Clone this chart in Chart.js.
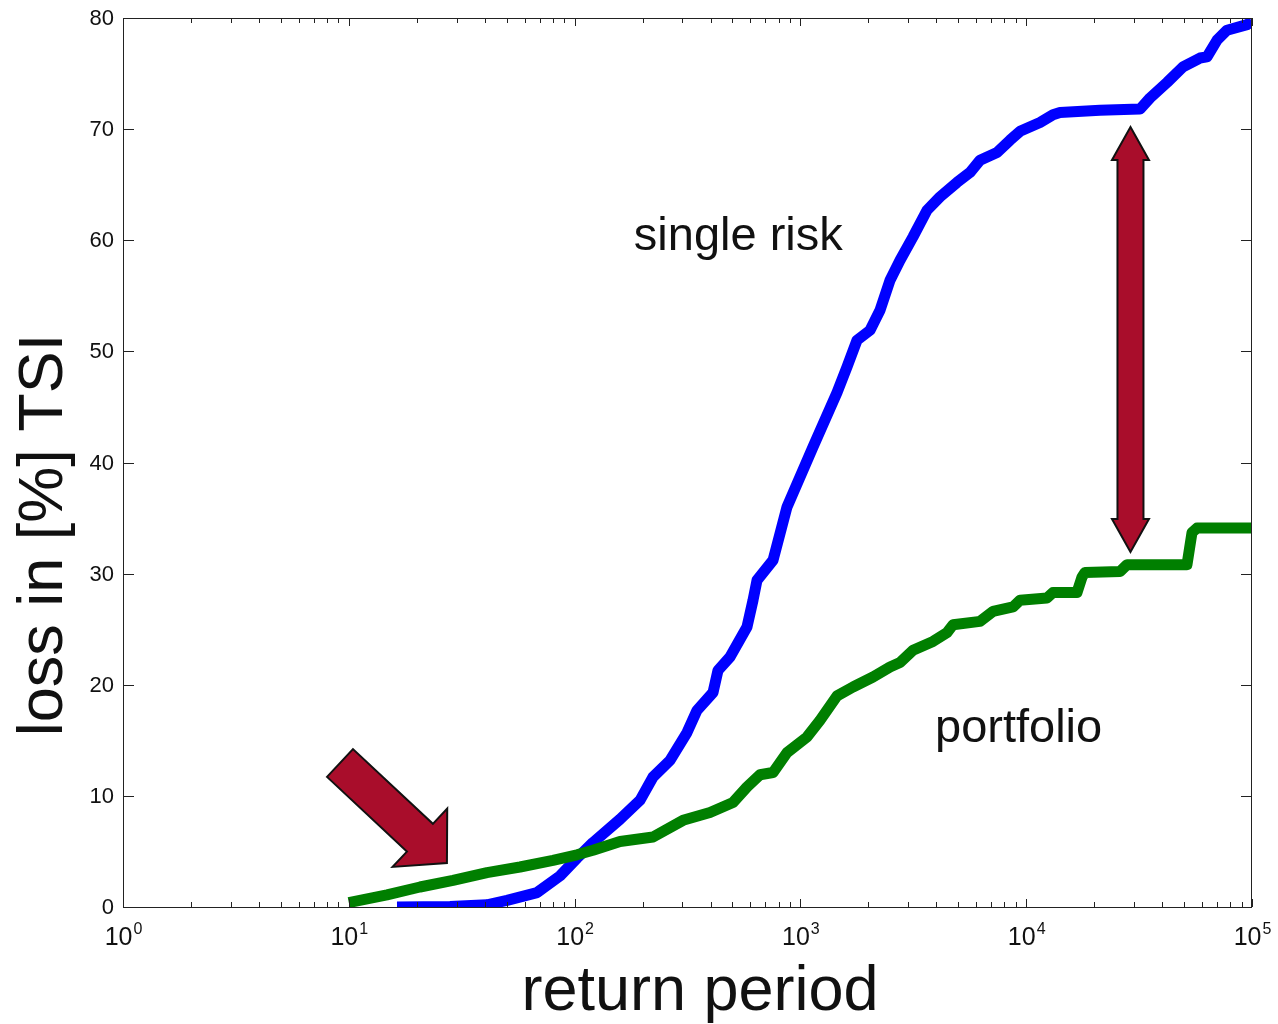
<!DOCTYPE html>
<html>
<head>
<meta charset="utf-8">
<script src="https://cdn.jsdelivr.net/npm/chart.js@4"></script>
<style>
  body { margin: 0; background: #fff; }
  canvas { display: block; }
</style>
</head>
<body>
<canvas id="lossChart" width="1278" height="1024"></canvas>
<script>
// return period (years) and loss in % of TSI
const singleRiskPeriods = [16.35, 28.07, 40.93, 50.2, 68.2, 86.2, 102.5, 120.6, 158.9, 194.8,
    222.5, 264.6, 314.6, 348.5, 410.2, 431.7, 487.8, 580, 616.8, 642.5,
    756.2, 872.4, 1137, 1453, 1608, 1781, 2034, 2252, 2494, 2762,
    3153, 3637, 4152, 4937, 5638, 6243, 7426, 8477, 9389, 11510,
    13140, 14115, 21220, 31920, 35340, 42030, 49480, 58850, 63200, 69980,
    77500, 95040, 100000];
const singleRiskLoss = [0, 0.05, 0.2, 0.6, 1.3, 2.8, 4.4, 5.8, 7.9, 9.6,
    11.7, 13.2, 15.7, 17.7, 19.3, 21.3, 22.5, 25.2, 27.6, 29.4,
    31.2, 36.0, 41.4, 46.3, 48.6, 51.0, 51.9, 53.7, 56.4, 58.2,
    60.3, 62.7, 63.9, 65.2, 66.1, 67.2, 67.9, 69.0, 69.8, 70.6,
    71.3, 71.5, 71.7, 71.8, 72.8, 74.2, 75.6, 76.4, 76.5, 78.0,
    78.9, 79.4, 79.7];

const portfolioPeriods = [10, 14.76, 20.67, 28.94, 40.93, 57.3, 80.2, 102.5, 120.6, 158.9,
    222.5, 302.1, 397.7, 502.8, 580, 662.3, 756.2, 872.4, 1070, 1221,
    1453, 1710, 2097, 2494, 2762, 3153, 3866, 4459, 4741, 6243,
    7129, 8741, 9389, 12360, 13140, 16790, 17670, 18210, 26030, 27950,
    51530, 54240, 57070, 100000];
const portfolioLoss = [0.4, 1.1, 1.8, 2.4, 3.1, 3.6, 4.2, 4.7, 5.1, 5.9,
    6.3, 7.8, 8.5, 9.4, 10.8, 11.9, 12.1, 13.9, 15.3, 16.8,
    19.0, 19.8, 20.7, 21.6, 22.0, 23.1, 23.9, 24.7, 25.4, 25.7,
    26.6, 27.0, 27.6, 27.8, 28.3, 28.3, 29.7, 30.1, 30.2, 30.8,
    30.8, 33.7, 34.1, 34.1];

const yTicks = [0, 10, 20, 30, 40, 50, 60, 70, 80];
const xTickExponents = [0, 1, 2, 3, 4, 5];

// annotation anchors in data units
const diagArrow = { from: [9.14, 12.96], to: [27.2, 3.96] };
const gapArrow = { x: 28960, top: 70.19, bottom: 31.95 };
const curveLabels = [
    { text: "single risk", x: 183, y: 59.1 },
    { text: "portfolio", x: 3945, y: 14.85 }
];

const FONT = '"Liberation Sans", Arial, Helvetica, sans-serif';

function toPoints(xs, ys) {
    return xs.map((x, i) => ({ x: x, y: ys[i] }));
}

function arrowPath(ctx, tail, tip, shaftHalf, headHalf, headLen) {
    const dx = tip[0] - tail[0], dy = tip[1] - tail[1];
    const len = Math.hypot(dx, dy);
    const ux = dx / len, uy = dy / len;
    const nx = -uy, ny = ux;
    const bx = tip[0] - ux * headLen, by = tip[1] - uy * headLen;
    ctx.beginPath();
    ctx.moveTo(tail[0] + nx * shaftHalf, tail[1] + ny * shaftHalf);
    ctx.lineTo(bx + nx * shaftHalf, by + ny * shaftHalf);
    ctx.lineTo(bx + nx * headHalf, by + ny * headHalf);
    ctx.lineTo(tip[0], tip[1]);
    ctx.lineTo(bx - nx * headHalf, by - ny * headHalf);
    ctx.lineTo(bx - nx * shaftHalf, by - ny * shaftHalf);
    ctx.lineTo(tail[0] - nx * shaftHalf, tail[1] - ny * shaftHalf);
    ctx.closePath();
}

function doubleArrowPath(ctx, x, top, bottom, shaftHalf, headHalf, headLen) {
    ctx.beginPath();
    ctx.moveTo(x, top);
    ctx.lineTo(x + headHalf, top + headLen);
    ctx.lineTo(x + shaftHalf, top + headLen);
    ctx.lineTo(x + shaftHalf, bottom - headLen);
    ctx.lineTo(x + headHalf, bottom - headLen);
    ctx.lineTo(x, bottom);
    ctx.lineTo(x - headHalf, bottom - headLen);
    ctx.lineTo(x - shaftHalf, bottom - headLen);
    ctx.lineTo(x - shaftHalf, top + headLen);
    ctx.lineTo(x - headHalf, top + headLen);
    ctx.closePath();
}

// MATLAB-like box with inward ticks, labels and annotations
const matlabFrame = {
    id: "matlabFrame",
    afterDatasetsDraw(chart) {
        const { ctx, chartArea: a, scales: { x, y } } = chart;
        ctx.save();

        // arrows
        ctx.fillStyle = "#a90d2b";
        ctx.strokeStyle = "#111";
        ctx.lineWidth = 2;
        ctx.lineJoin = "miter";
        const t = [x.getPixelForValue(diagArrow.from[0]), y.getPixelForValue(diagArrow.from[1])];
        const h = [x.getPixelForValue(diagArrow.to[0]), y.getPixelForValue(diagArrow.to[1])];
        arrowPath(ctx, t, h, 19, 40, 37);
        ctx.fill();
        ctx.stroke();
        doubleArrowPath(ctx, x.getPixelForValue(gapArrow.x),
            y.getPixelForValue(gapArrow.top), y.getPixelForValue(gapArrow.bottom), 13, 18.5, 33);
        ctx.fill();
        ctx.stroke();

        // frame
        ctx.strokeStyle = "#222";
        ctx.lineWidth = 1;
        ctx.strokeRect(Math.round(a.left) + 0.5, Math.round(a.top) + 0.5,
            Math.round(a.width) - 1, Math.round(a.height));

        ctx.beginPath();
        // y ticks (left and right, pointing inward)
        yTicks.forEach(v => {
            const py = Math.round(y.getPixelForValue(v)) + 0.5;
            ctx.moveTo(a.left, py); ctx.lineTo(a.left + 11, py);
            ctx.moveTo(a.right, py); ctx.lineTo(a.right - 11, py);
        });
        // x ticks, major and minor, bottom and top
        xTickExponents.forEach(e => {
            const px = Math.round(x.getPixelForValue(Math.pow(10, e))) + 0.5;
            ctx.moveTo(px, a.bottom); ctx.lineTo(px, a.bottom - 8);
            ctx.moveTo(px, a.top); ctx.lineTo(px, a.top + 8);
            if (e < 5) {
                for (let m = 2; m <= 9; m++) {
                    const mx = Math.round(x.getPixelForValue(m * Math.pow(10, e))) + 0.5;
                    ctx.moveTo(mx, a.bottom); ctx.lineTo(mx, a.bottom - 5);
                    ctx.moveTo(mx, a.top); ctx.lineTo(mx, a.top + 5);
                }
            }
        });
        ctx.stroke();

        // tick labels
        ctx.fillStyle = "#111";
        ctx.font = "22px " + FONT;
        ctx.textAlign = "right";
        ctx.textBaseline = "middle";
        yTicks.forEach(v => {
            ctx.fillText(String(v), a.left - 9, y.getPixelForValue(v) + 1);
        });

        ctx.textBaseline = "alphabetic";
        ctx.textAlign = "left";
        xTickExponents.forEach(e => {
            const px = x.getPixelForValue(Math.pow(10, e));
            ctx.font = "25px " + FONT;
            const wBase = ctx.measureText("10").width;
            ctx.font = "16px " + FONT;
            const wExp = ctx.measureText(String(e)).width;
            const left = px - (wBase + wExp) / 2;
            ctx.font = "25px " + FONT;
            ctx.fillText("10", left, a.bottom + 38);
            ctx.font = "16px " + FONT;
            ctx.fillText(String(e), left + wBase + 1, a.bottom + 27);
        });

        // curve labels
        ctx.font = "47px " + FONT;
        curveLabels.forEach(l => {
            ctx.fillText(l.text, x.getPixelForValue(l.x), y.getPixelForValue(l.y));
        });

        // axis titles
        ctx.font = "63px " + FONT;
        ctx.textAlign = "center";
        ctx.fillText("return period", 700, 1010);
        ctx.save();
        ctx.translate(62, 535);
        ctx.rotate(-Math.PI / 2);
        ctx.fillText("loss in [%] TSI", 0, 0);
        ctx.restore();

        ctx.restore();
    }
};

new Chart(document.getElementById("lossChart").getContext("2d"), {
    type: "line",
    data: {
        datasets: [
            {
                label: "portfolio",
                data: toPoints(portfolioPeriods, portfolioLoss),
                borderColor: "#007f00",
                borderWidth: 11,
                borderJoinStyle: "round",
                pointRadius: 0,
                tension: 0,
                clip: 0
            },
            {
                label: "single risk",
                data: toPoints(singleRiskPeriods, singleRiskLoss),
                borderColor: "#0000ff",
                borderWidth: 11,
                borderJoinStyle: "round",
                pointRadius: 0,
                tension: 0,
                clip: 0
            }
        ]
    },
    options: {
        responsive: false,
        devicePixelRatio: 1,
        animation: false,
        events: [],
        layout: {
            autoPadding: false,
            padding: { left: 123, right: 26, top: 18, bottom: 117 }
        },
        plugins: {
            legend: { display: false },
            tooltip: { enabled: false }
        },
        scales: {
            x: { type: "logarithmic", min: 1, max: 100000, display: false },
            y: { type: "linear", min: 0, max: 80, display: false }
        }
    },
    plugins: [matlabFrame]
});
</script>
</body>
</html>
